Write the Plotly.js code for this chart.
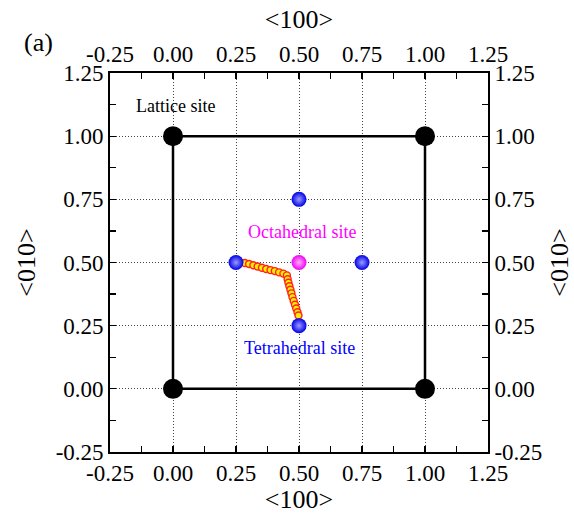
<!DOCTYPE html>
<html>
<head>
<meta charset="utf-8">
<script src="https://cdn.plot.ly/plotly-3.0.1.min.js"></script>
<style>html,body{margin:0;padding:0;background:#fff;}#chart{width:574px;height:514px;}</style>
</head>
<body>
<div id="chart"></div>
<script>
// ---- data ----
var tickVals = [-0.25, 0, 0.25, 0.5, 0.75, 1.0, 1.25];
var tickText = ['-0.25', '0.00', '0.25', '0.50', '0.75', '1.00', '1.25'];

var squareX = [0, 1, 1, 0, 0];
var squareY = [0, 0, 1, 1, 0];

var latticeX = [0, 1, 0, 1];
var latticeY = [0, 0, 1, 1];

var tetraX = [0.5, 0.25, 0.75, 0.5];
var tetraY = [0.75, 0.5, 0.5, 0.25];

var octaX = [0.5];
var octaY = [0.5];

var pathX = [0.285, 0.302, 0.319, 0.336, 0.353, 0.370, 0.387, 0.404, 0.421, 0.438, 0.452,
             0.455, 0.458, 0.462, 0.466, 0.470, 0.474, 0.479, 0.484, 0.489, 0.494, 0.498];
var pathY = [0.498, 0.494, 0.489, 0.484, 0.479, 0.474, 0.470, 0.466, 0.461, 0.456, 0.449,
             0.434, 0.420, 0.406, 0.392, 0.378, 0.363, 0.348, 0.333, 0.318, 0.303, 0.290];

var labels = [
  {text: 'Lattice site', x: 0.01, y: 1.118, color: '#000000'},
  {text: 'Octahedral site', x: 0.51, y: 0.62, color: '#ff00ff'},
  {text: 'Tetrahedral site', x: 0.503, y: 0.163, color: '#0000ff'}
];

var serif = 'Liberation Serif, Times New Roman, serif';

var traces = [
  {x: squareX, y: squareY, mode: 'lines', line: {color: '#000', width: 2.5}, hoverinfo: 'skip', showlegend: false},
  {x: latticeX, y: latticeY, mode: 'markers', marker: {color: '#000', size: 20}, hoverinfo: 'skip', showlegend: false},
  {x: pathX, y: pathY, mode: 'lines+markers', line: {color: '#ff2020', width: 2},
   marker: {color: '#ffee00', size: 7, line: {color: '#ff2020', width: 1.4}}, hoverinfo: 'skip', showlegend: false},
  {x: tetraX, y: tetraY, mode: 'markers',
   marker: {color: '#0000e6', size: 15, line: {width: 0}, gradient: {type: 'radial', color: '#9c9cff'}}, hoverinfo: 'skip', showlegend: false},
  {x: octaX, y: octaY, mode: 'markers',
   marker: {color: '#f000f0', size: 15, line: {width: 0}, gradient: {type: 'radial', color: '#ffb0ff'}}, hoverinfo: 'skip', showlegend: false},
  {x: [], y: [], xaxis: 'x2', yaxis: 'y2', mode: 'markers', hoverinfo: 'skip', showlegend: false}
];

var axisCommon = {
  range: [-0.25, 1.25], tickmode: 'array', tickvals: tickVals, ticktext: tickText,
  ticks: 'inside', ticklen: 6, tickwidth: 1.2, tickcolor: '#000',
  showline: true, linecolor: '#000', linewidth: 1.8, zeroline: false,
  tickfont: {family: serif, size: 23, color: '#000'},
  minor: {ticks: 'inside', ticklen: 6, tickwidth: 1.2, tickcolor: '#000', tickmode: 'linear', tick0: -0.125, dtick: 0.25, showgrid: false},
  fixedrange: true
};

function ax(extra) { return Object.assign({}, JSON.parse(JSON.stringify(axisCommon)), extra); }

var annotations = labels.map(function (l) {
  return {x: l.x, y: l.y, xref: 'x', yref: 'y', text: l.text, showarrow: false,
          font: {family: serif, size: 18, color: l.color}};
});
// "(a)" panel label, placed in paper coordinates
annotations.push({x: (38 - 110) / 378, y: (514 - 62 - 42) / 379, xref: 'paper', yref: 'paper',
  xanchor: 'center', yanchor: 'middle',
  text: '(a)', showarrow: false, font: {family: serif, size: 26, color: '#000'}});

var gridStyle = {showgrid: true, gridcolor: '#444', gridwidth: 1, griddash: '1px,2px'};

var layout = {
  width: 574, height: 514,
  margin: {l: 110, r: 86, t: 73, b: 62, pad: 0},
  paper_bgcolor: '#fff', plot_bgcolor: '#fff',
  showlegend: false,
  xaxis: ax(Object.assign({side: 'bottom',
    title: {text: '&lt;100&gt;', font: {family: serif, size: 26, color: '#000'}, standoff: 10}}, gridStyle)),
  yaxis: ax(Object.assign({side: 'left',
    title: {text: '&lt;010&gt;', font: {family: serif, size: 26, color: '#000'}, standoff: 12}}, gridStyle)),
  xaxis2: ax({overlaying: 'x', side: 'top', showgrid: false,
    title: {text: '&lt;100&gt;', font: {family: serif, size: 26, color: '#000'}, standoff: 6}}),
  yaxis2: ax({overlaying: 'y', side: 'right', showgrid: false,
    title: {text: '&lt;010&gt;', font: {family: serif, size: 26, color: '#000'}, standoff: 18}}),
  annotations: annotations
};

Plotly.newPlot('chart', traces, layout, {displayModeBar: false, staticPlot: true});
</script>
</body>
</html>
